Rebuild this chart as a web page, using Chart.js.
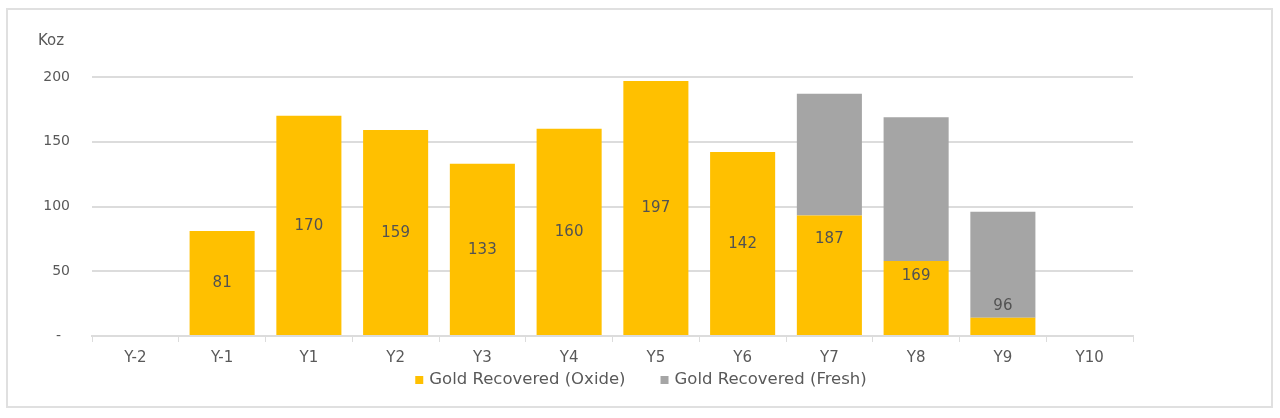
<!DOCTYPE html>
<html>
<head>
<meta charset="utf-8">
<script src="https://cdn.jsdelivr.net/npm/chart.js@4/dist/chart.umd.min.js"></script>
<style>
  body { margin: 0; background: #fff; }
  #wrap { position: relative; width: 1280px; height: 418px; }
  #frame { position: absolute; left: 6px; top: 8px; width: 1263px; height: 396px; border: 2px solid #e0e0e0; pointer-events: none; }
</style>
</head>
<body>
<div id="wrap">
  <canvas id="gold" width="1280" height="418"></canvas>
  <div id="frame"></div>
</div>
<script>
(function(){

    'use strict';

    var categories = ['Y-2', 'Y-1', 'Y1', 'Y2', 'Y3', 'Y4', 'Y5', 'Y6', 'Y7', 'Y8', 'Y9', 'Y10'];
    var oxide = [null, 81, 170, 159, 133, 160, 197, 142, 93, 58, 14, null];
    var fresh = [null, null, null, null, null, null, null, null, 94, 111, 82, null];
    // where the total label sits (in Koz)
    var labelPos = [null, 40.5, 85, 79.5, 66.5, 80, 98.5, 71, 75, 46, 23, null];
    var yTicks = [0, 50, 100, 150, 200];

    var font = 'DejaVu Sans',
        textColor = '#595959',
        lineColor = '#dcdcdc';

    var totals = categories.map(function(c, i) {
        if (oxide[i] === null && fresh[i] === null) return null;
        return (oxide[i] || 0) + (fresh[i] || 0);
    });

    var labelsPlugin = {
        id: 'totals',
        afterDatasetsDraw: function(chart) {
            var ctx = chart.ctx,
                meta = chart.getDatasetMeta(0),
                y = chart.scales.y;

            ctx.save();
            ctx.font = '15px "' + font + '"';
            ctx.fillStyle = '#525252';
            ctx.textAlign = 'center';
            ctx.textBaseline = 'middle';
            for (var i = 0; i < totals.length; i++) {
                if (totals[i] === null) continue;
                ctx.fillText(String(totals[i]), meta.data[i].x, y.getPixelForValue(labelPos[i]));
            }
            ctx.restore();
        },
        afterDraw: function(chart) {
            var ctx = chart.ctx,
                sets = chart.data.datasets,
                box = 8, gap = 6, between = 35,
                widths, total, x, i;

            ctx.save();
            ctx.font = '15px "' + font + '"';
            ctx.fillStyle = textColor;
            ctx.textAlign = 'left';
            ctx.textBaseline = 'middle';
            ctx.fillText('Koz', 38, 41);

            // legend, centred on the page
            ctx.font = '16.5px "' + font + '"';
            widths = sets.map(function(s) { return box + gap + ctx.measureText(s.label).width; });
            total = widths.reduce(function(a, b) { return a + b; }, 0) + between * (sets.length - 1);
            x = 641 - total / 2;
            for (i = 0; i < sets.length; i++) {
                ctx.fillStyle = sets[i].backgroundColor;
                ctx.fillRect(x, 376, box, box);
                ctx.fillStyle = textColor;
                ctx.fillText(sets[i].label, x + box + gap, 380);
                x += widths[i] + between;
            }
            ctx.restore();
        }
    };

    new Chart(document.getElementById('gold').getContext('2d'), {
        type: 'bar',
        data: {
            labels: categories,
            datasets: [{
                label: 'Gold Recovered (Oxide)',
                data: oxide,
                backgroundColor: '#ffc000',
                barPercentage: 0.75,
                categoryPercentage: 1.0
            }, {
                label: 'Gold Recovered (Fresh)',
                data: fresh,
                backgroundColor: '#a5a5a5',
                barPercentage: 0.75,
                categoryPercentage: 1.0
            }]
        },
        options: {
            responsive: false,
            animation: false,
            layout: {
                padding: { left: 30, right: 147, top: 77, bottom: 52 }
            },
            plugins: {
                tooltip: { enabled: false },
                legend: { display: false }
            },
            scales: {
                x: {
                    stacked: true,
                    afterFit: function(scale) { scale.height = 30; },
                    grid: {
                        offset: true,
                        drawOnChartArea: false,
                        tickLength: 6,
                        color: lineColor
                    },
                    border: { display: true, color: lineColor, width: 2 },
                    ticks: {
                        padding: 7,
                        color: textColor,
                        font: { family: font, size: 15 }
                    }
                },
                y: {
                    stacked: true,
                    min: 0,
                    max: 200,
                    afterFit: function(scale) { scale.width = 62; },
                    afterBuildTicks: function(scale) {
                        scale.ticks = yTicks.map(function(v) { return { value: v }; });
                    },
                    grid: {
                        drawTicks: false,
                        color: lineColor,
                        lineWidth: 2
                    },
                    border: { display: false },
                    ticks: {
                        padding: 22,
                        color: textColor,
                        font: { family: font, size: 14 },
                        callback: function(v) { return v === 0 ? '-  ' : v; }
                    }
                }
            }
        },
        plugins: [labelsPlugin]
    });
})();
</script>
</body>
</html>
